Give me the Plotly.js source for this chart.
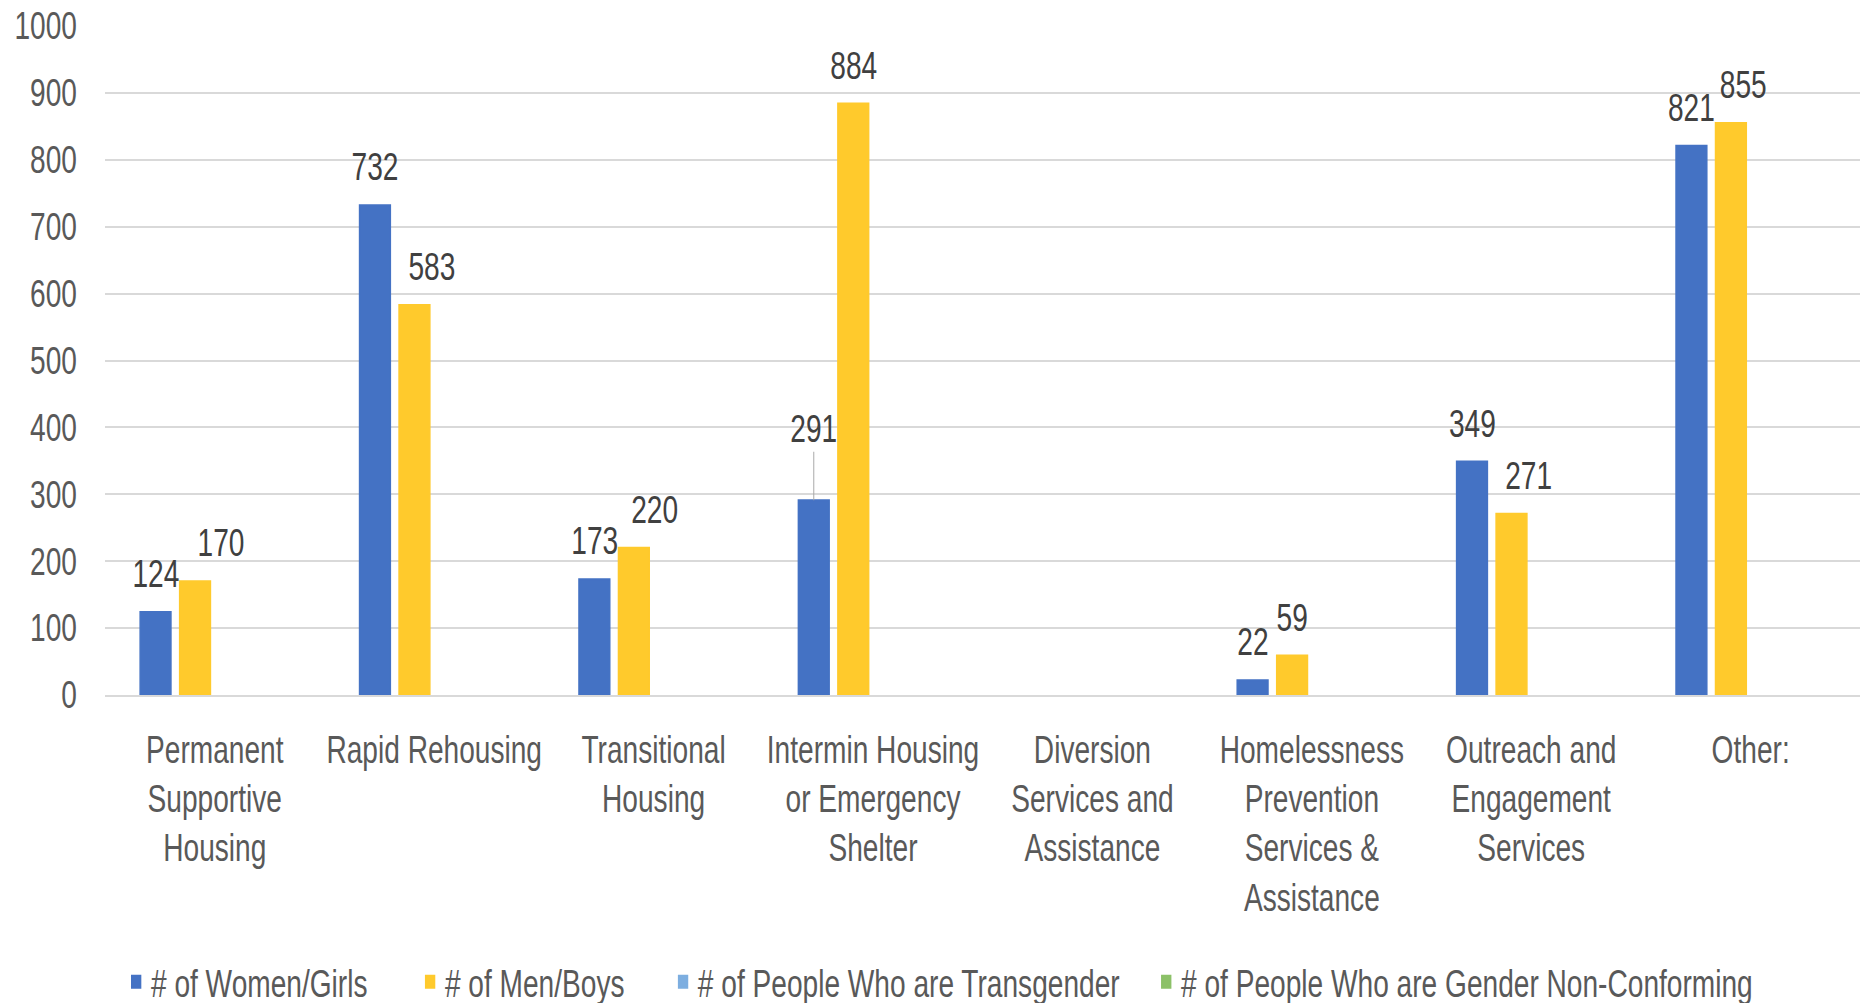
<!DOCTYPE html>
<html>
<head>
<meta charset="utf-8">
<script src="https://cdn.plot.ly/plotly-3.0.1.min.js"></script>
<style>
  html, body { margin: 0; padding: 0; background: #ffffff; overflow: hidden; width: 1864px; height: 1003px; }
  #chart { transform-origin: 0 0; }
</style>
</head>
<body>
<div id="chart"></div>
<script>
const categories = [
  "Permanent<br>Supportive<br>Housing",
  "Rapid Rehousing",
  "Transitional<br>Housing",
  "Intermin Housing<br>or Emergency<br>Shelter",
  "Diversion<br>Services and<br>Assistance",
  "Homelessness<br>Prevention<br>Services &<br>Assistance",
  "Outreach and<br>Engagement<br>Services",
  "Other:"
];
const seriesNames = [
  "# of Women/Girls",
  "# of Men/Boys",
  "# of People Who are Transgender",
  "# of People Who are Gender Non-Conforming"
];
const women = [124, 732, 173, 291, null, 22, 349, 821];
const men = [170, 583, 220, 884, null, 59, 271, 855];
const transgender = [null, null, null, null, null, null, null, null];
const nonConforming = [null, null, null, null, null, null, null, null];
const yTicks = [0, 100, 200, 300, 400, 500, 600, 700, 800, 900, 1000];

// label nudges (final pixels) for men labels that were moved in the original
const menLabelShift = [26, 17, 21, 0, 0, 0, 17, 12];
// legend entry positions (fraction of page width)
const legendX = [0.0651, 0.2228, 0.3585, 0.6177];

const colors = ["#4472C4", "#FFCA2C", "#7DAEE0", "#8CC168"];
const FONT = "'Liberation Sans', Arial, sans-serif";
const FS = 38;

// the original chart is horizontally condensed; reproduce by drawing wider and squeezing
const K = 0.74;
const W = Math.round(1864 / K);
const H = 1003;
const chartDiv = document.getElementById("chart");
chartDiv.style.width = W + "px";
chartDiv.style.height = H + "px";
chartDiv.style.transform = "scaleX(" + K + ")";

const seriesData = [women, men, transgender, nonConforming];
const bargap = 0.28;
const bargroupgap = 0.22;
const slot = (1 - bargap) / seriesData.length;

const legendIds = ["legend", "legend2", "legend3", "legend4"];

const traces = seriesData.map((vals, i) => ({
  type: "bar",
  name: seriesNames[i],
  x: categories,
  y: vals,
  legend: legendIds[i],
  marker: { color: colors[i], line: { color: colors[i], width: 2 } },
  hoverinfo: "y"
}));

const annotations = [];
[women, men].forEach((vals, si) => {
  vals.forEach((v, ci) => {
    if (v === null) return;
    const xpos = ci + (si - 1.5) * slot;
    const base = {
      x: xpos, y: v, xref: "x", yref: "y",
      text: String(v),
      font: { family: FONT, size: FS, color: "#404040" }
    };
    if (si === 0 && ci === 3) {
      annotations.push(Object.assign(base, {
        showarrow: true, arrowhead: 0, arrowwidth: 1.3, arrowcolor: "#A6A6A6",
        ax: 0, ay: -71, standoff: 0
      }));
    } else {
      annotations.push(Object.assign(base, {
        showarrow: false, yanchor: "middle", xanchor: "center",
        yshift: 38, xshift: si === 1 ? menLabelShift[ci] / K : 0
      }));
    }
  });
});

const layout = {
  width: W,
  height: H,
  margin: { l: Math.round(105 / K), r: Math.round(4 / K), t: 26, b: 308 },
  paper_bgcolor: "#ffffff",
  plot_bgcolor: "#ffffff",
  barmode: "group",
  bargap: bargap,
  bargroupgap: bargroupgap,
  font: { family: FONT, size: FS, color: "#595959" },
  xaxis: {
    type: "category",
    tickfont: { family: FONT, size: FS, color: "#595959" },
    showline: true,
    linecolor: "#D9D9D9",
    linewidth: 2,
    showgrid: false,
    ticks: "",
    ticklabelstandoff: 20,
    tickangle: 0,
    automargin: false
  },
  yaxis: {
    range: [0, 1000],
    tickvals: yTicks,
    ticktext: yTicks.map(String),
    tickfont: { family: FONT, size: FS, color: "#595959" },
    showgrid: true,
    gridcolor: "#D9D9D9",
    gridwidth: 2,
    zeroline: false,
    showline: false,
    ticks: "",
    ticklabelstandoff: 37,
    automargin: false
  },
  showlegend: true,
  annotations: annotations
};

legendIds.forEach((id, i) => {
  layout[id] = {
    orientation: "h",
    xref: "container",
    yref: "container",
    x: legendX[i],
    xanchor: "left",
    y: 1 - 982 / 1003,
    yanchor: "middle",
    font: { family: FONT, size: FS, color: "#595959" },
    bgcolor: "rgba(0,0,0,0)"
  };
});

Plotly.newPlot(chartDiv, traces, layout, { displayModeBar: false, staticPlot: true });
</script>
</body>
</html>
